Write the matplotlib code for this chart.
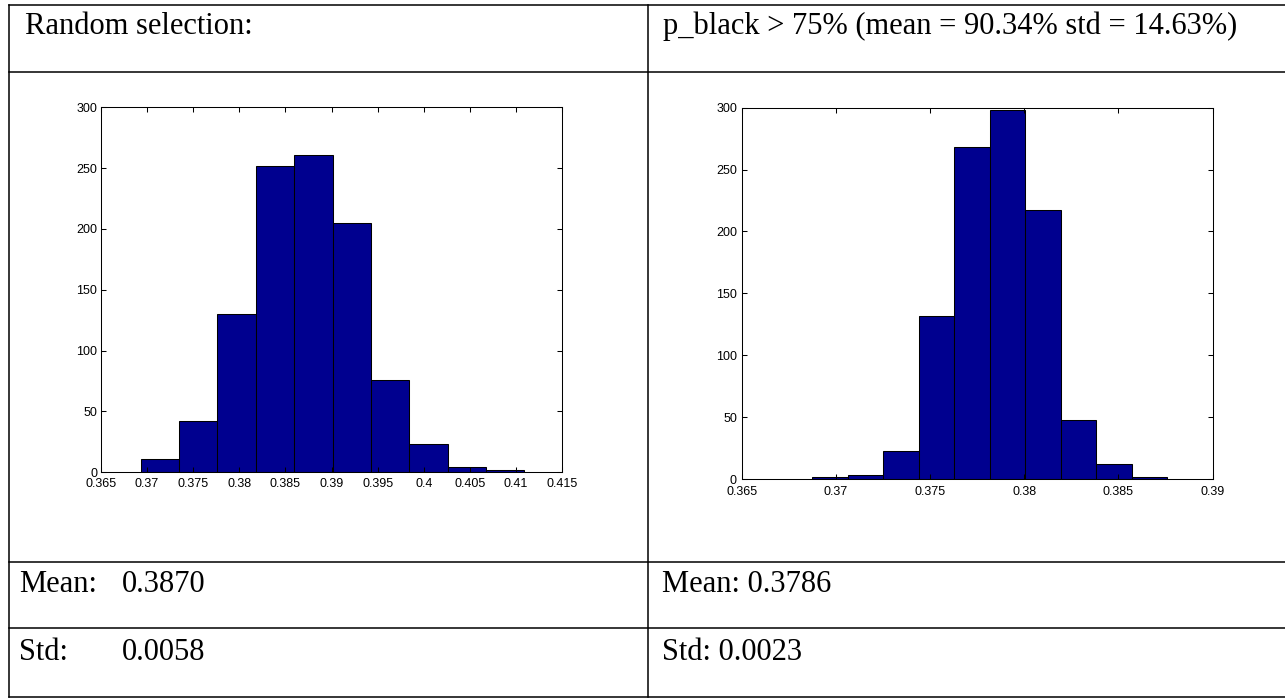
import numpy as np
import matplotlib
matplotlib.use("Agg")
import matplotlib.pyplot as plt
from matplotlib.lines import Line2D

# ---------------- data ----------------
left_title = "Random selection:"
right_title = "p_black > 75% (mean = 90.34% std = 14.63%)"

left_counts = [11, 42, 130, 252, 261, 205, 76, 23, 4, 2]
left_range = (0.36932, 0.41090)
left_xticks = [0.365, 0.37, 0.375, 0.38, 0.385, 0.39, 0.395, 0.4, 0.405, 0.41, 0.415]
left_xticklabels = ["0.365", "0.37", "0.375", "0.38", "0.385", "0.39", "0.395", "0.4", "0.405", "0.41", "0.415"]

right_counts = [2, 3, 23, 132, 268, 298, 217, 48, 12, 2]
right_range = (0.36873, 0.38758)
right_xticks = [0.365, 0.37, 0.375, 0.38, 0.385, 0.39]
right_xticklabels = ["0.365", "0.37", "0.375", "0.38", "0.385", "0.39"]

yticks = [0, 50, 100, 150, 200, 250, 300]
yticklabels = ["0", "50", "100", "150", "200", "250", "300"]

left_mean_label, left_mean_value = "Mean:", "0.3870"
left_std_label, left_std_value = "Std:", "0.0058"
right_mean_text = "Mean: 0.3786"
right_std_text = "Std: 0.0023"

# ---------------- layout ----------------
W, H = 1285, 700
fig = plt.figure(figsize=(W / 100, H / 100), dpi=100)
fig.patch.set_facecolor("white")

def fx(x):
    return x / W

def fy(y):
    return 1 - y / H

serif = ["Liberation Serif", "DejaVu Serif"]
sans = ["Liberation Sans", "DejaVu Sans"]
BAR = "#00008F"

# table lines
lw = 1.1
x_left, x_mid, x_right = 9.3, 647.5, 1286
for y in [4.5, 72, 562, 628, 697]:
    fig.add_artist(Line2D([fx(x_left), fx(x_right)], [fy(y), fy(y)], color="black", lw=lw,
                          transform=fig.transFigure))
for x in [x_left, x_mid]:
    fig.add_artist(Line2D([fx(x), fx(x)], [fy(4.5), fy(697)], color="black", lw=lw,
                          transform=fig.transFigure))

fs = 22
def put(x, y, s):
    fig.text(fx(x), fy(y), s, family=serif, fontsize=fs, ha="left", va="baseline", color="black")

put(25, 34, left_title)
put(663, 34, right_title)
put(19, 592, left_mean_label)
put(122, 592, left_mean_value)
put(19, 660, left_std_label)
put(122, 660, left_std_value)
put(662, 592, right_mean_text)
put(662, 660, right_std_text)


def hist_axes(rect, counts, rng, xticks, xticklabels, xpad, ypad):
    x0, x1, ytop, ybot = rect
    ax = fig.add_axes([fx(x0), fy(ybot), (x1 - x0) / W, (ybot - ytop) / H])
    edges = np.linspace(rng[0], rng[1], len(counts) + 1)
    ax.bar(edges[:-1], counts, width=np.diff(edges), align="edge",
           color=BAR, edgecolor="black", linewidth=0.75)
    ax.set_xlim(xticks[0], xticks[-1])
    ax.set_ylim(0, 300)
    ax.set_xticks(xticks)
    ax.set_xticklabels(xticklabels)
    ax.set_yticks(yticks)
    ax.set_yticklabels(yticklabels)
    ax.tick_params(direction="in", length=3.6, width=0.75, top=True, right=True,
                   labelsize=9, colors="black")
    ax.tick_params(axis="x", pad=xpad)
    ax.tick_params(axis="y", pad=ypad)
    for lab in ax.get_xticklabels() + ax.get_yticklabels():
        lab.set_family(sans)
    for sp in ax.spines.values():
        sp.set_linewidth(0.75)
        sp.set_color("black")
    return ax

hist_axes((100.7, 562.3, 107.3, 472.3), left_counts, left_range, left_xticks, left_xticklabels, 4.0, 2.5)
hist_axes((742.0, 1212.6, 107.7, 479.0), right_counts, right_range, right_xticks, right_xticklabels, 5.0, 3.6)

fig.savefig("out.png", dpi=100, facecolor="white")
